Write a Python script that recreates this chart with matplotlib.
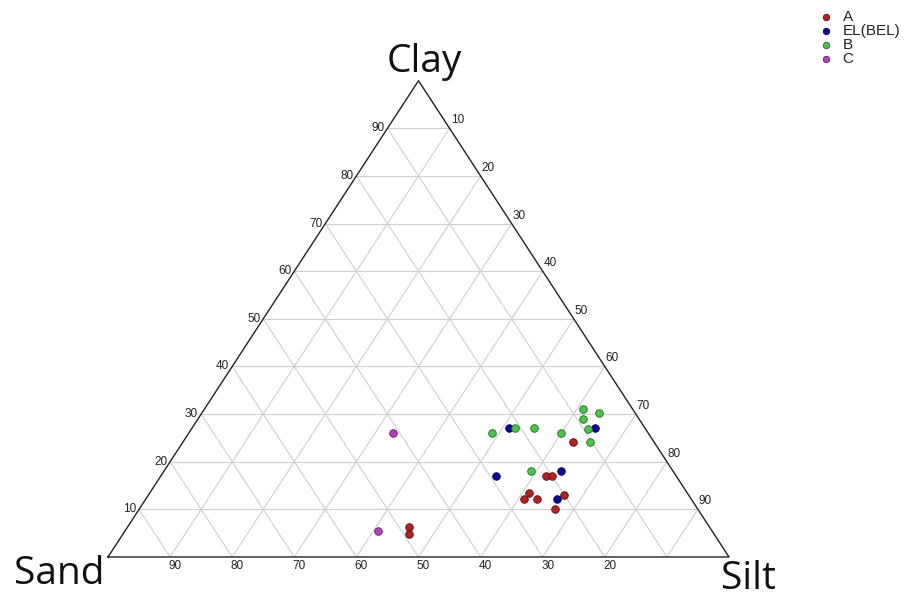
import matplotlib
matplotlib.use("Agg")
import matplotlib.pyplot as plt
import numpy as np

# ---- data (percent) ----
groups = ["A", "EL(BEL)", "B", "C"]
colors = ["#B22222", "#0A0A96", "#4CC44C", "#B040C0"]
edges = ["#5a0f0f", "#05054a", "#1f6a1f", "#5c1f66"]

clay_A = [24.1, 17.1, 17.1, 13.4, 12.1, 12.1, 13.0, 10.1, 6.4, 4.8]
silt_A = [62.9, 62.0, 63.0, 61.1, 60.9, 63.0, 67.0, 66.9, 45.3, 46.0]

clay_EL = [27.0, 27.0, 17.1, 18.1, 12.1]
silt_EL = [51.0, 65.0, 54.0, 63.9, 66.2]

clay_B = [31.1, 30.2, 29.0, 26.1, 27.0, 27.0, 26.1, 26.8, 24.1, 18.1]
silt_B = [61.0, 64.0, 62.0, 48.8, 52.0, 55.1, 59.9, 63.9, 65.5, 59.0]

clay_C = [26.1, 5.5]
silt_C = [32.8, 40.8]

clay_series = [clay_A, clay_EL, clay_B, clay_C]
silt_series = [silt_A, silt_EL, silt_B, silt_C]

grid_levels = [10, 20, 30, 40, 50, 60, 70, 80, 90]
clay_ticks = ["10", "20", "30", "40", "50", "60", "70", "80", "90"]
silt_ticks = ["10", "20", "30", "40", "50", "60", "70", "80", "90"]
sand_ticks = ["90", "80", "70", "60", "50", "40", "30", "20"]
sand_tick_vals = [90, 80, 70, 60, 50, 40, 30, 20]


def tern(clay, silt):
    clay = np.asarray(clay, float)
    silt = np.asarray(silt, float)
    return silt + clay / 2.0, clay


W, H = 905, 597
fig = plt.figure(figsize=(W / 100, H / 100), dpi=100)
left_px, right_px, bottom_px, top_px = 108, 729, 557, 80.7
ax = fig.add_axes([left_px / W, (H - bottom_px) / H,
                   (right_px - left_px) / W, (bottom_px - top_px) / H])
ax.set_xlim(0, 100)
ax.set_ylim(0, 100)
ax.axis("off")

gcol = "#cfcfcf"
for v in grid_levels:
    x0, y0 = tern(v, 0)
    x1, y1 = tern(v, 100 - v)
    ax.plot([x0, x1], [y0, y1], color=gcol, lw=0.8, zorder=1)
    x0, y0 = tern(0, v)
    x1, y1 = tern(100 - v, v)
    ax.plot([x0, x1], [y0, y1], color=gcol, lw=0.8, zorder=1)
    x0, y0 = tern(0, 100 - v)
    x1, y1 = tern(100 - v, 0)
    ax.plot([x0, x1], [y0, y1], color=gcol, lw=0.8, zorder=1)

ox, oy = tern([0, 0, 100, 0], [0, 100, 0, 0])
ax.plot(ox, oy, color="#222222", lw=1.0, zorder=2, clip_on=False)

tfont = dict(fontsize=8.5, family="Liberation Sans", color="#222222")
for v, lab in zip(grid_levels, clay_ticks):
    x, y = tern(v, 0)
    ax.annotate(lab, (x, y), xytext=(-3, 0), textcoords="offset pixels",
                ha="right", va="center", **tfont)
for v, lab in zip(grid_levels, silt_ticks):
    x, y = tern(100 - v, v)
    ax.annotate(lab, (x, y), xytext=(1, 2), textcoords="offset pixels",
                ha="left", va="bottom", **tfont)
for v, lab in zip(sand_tick_vals, sand_ticks):
    x, y = tern(0, 100 - v)
    ax.annotate(lab, (x, y), xytext=(5, -3), textcoords="offset pixels",
                ha="center", va="top", **tfont)

cfont = dict(fontsize=28, family="Open Sans", color="#111111")
ax.annotate("Clay", tern(100, 0), xytext=(6, 0), textcoords="offset pixels",
            ha="center", va="bottom", **cfont)
ax.annotate("Sand", tern(0, 0), xytext=(-49, 2), textcoords="offset pixels",
            ha="center", va="top", **cfont)
ax.annotate("Silt", tern(0, 100), xytext=(19, -3), textcoords="offset pixels",
            ha="center", va="top", **cfont)

handles = []
for g, c, e, cl, si in zip(groups, colors, edges, clay_series, silt_series):
    x, y = tern(cl, si)
    h = ax.scatter(x, y, s=30, color=c, edgecolors=e, linewidths=0.6,
                   zorder=5, clip_on=False, label=g)
    handles.append(h)

leg = fig.legend(handles=handles, labels=groups, loc="upper left",
                 bbox_to_anchor=(806 / W, 1 + 1 / H), frameon=False,
                 prop={"family": "Liberation Sans", "size": 11},
                 handletextpad=0.5, labelspacing=0.0, handlelength=1.2,
                 borderpad=0.2, markerscale=0.85)
for t in leg.get_texts():
    t.set_color("#222222")

fig.savefig("out.png", dpi=100, facecolor="white")
